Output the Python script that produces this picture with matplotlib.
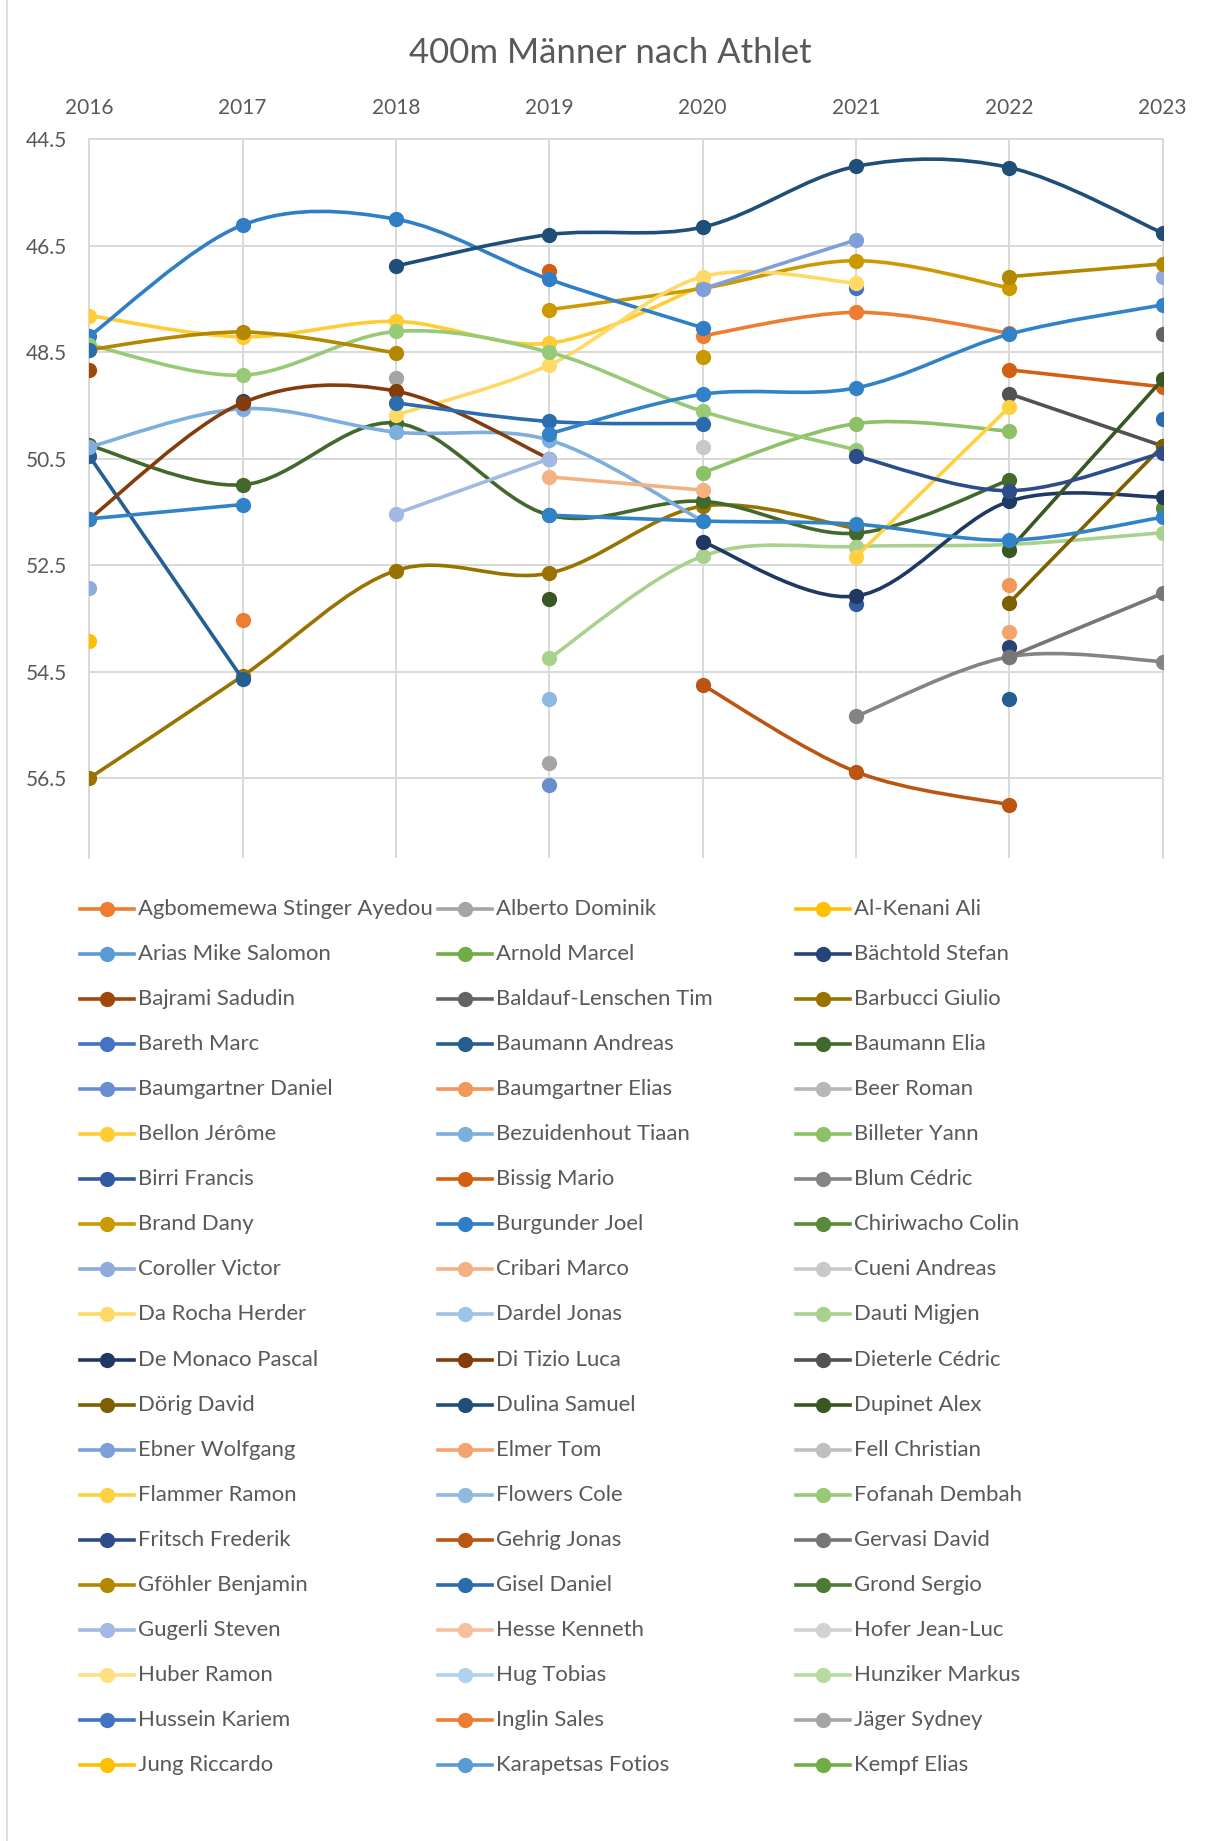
import matplotlib

matplotlib.use("Agg")
import matplotlib.pyplot as plt
import numpy as np
from matplotlib.lines import Line2D
from matplotlib.patches import PathPatch
from matplotlib.path import Path

plt.rcParams["font.family"] = ["Lato", "DejaVu Sans"]

N = None
years = [2016, 2017, 2018, 2019, 2020, 2021, 2022, 2023]
y_ticks = [44.5, 46.5, 48.5, 50.5, 52.5, 54.5, 56.5]

athletes = [
    "Agbomemewa Stinger Ayedou", "Alberto Dominik", "Al-Kenani Ali",
    "Arias Mike Salomon", "Arnold Marcel", "Bächtold Stefan",
    "Bajrami Sadudin", "Baldauf-Lenschen Tim", "Barbucci Giulio",
    "Bareth Marc", "Baumann Andreas", "Baumann Elia",
    "Baumgartner Daniel", "Baumgartner Elias", "Beer Roman",
    "Bellon Jérôme", "Bezuidenhout Tiaan", "Billeter Yann",
    "Birri Francis", "Bissig Mario", "Blum Cédric",
    "Brand Dany", "Burgunder Joel", "Chiriwacho Colin",
    "Coroller Victor", "Cribari Marco", "Cueni Andreas",
    "Da Rocha Herder", "Dardel Jonas", "Dauti Migjen",
    "De Monaco Pascal", "Di Tizio Luca", "Dieterle Cédric",
    "Dörig David", "Dulina Samuel", "Dupinet Alex",
    "Ebner Wolfgang", "Elmer Tom", "Fell Christian",
    "Flammer Ramon", "Flowers Cole", "Fofanah Dembah",
    "Fritsch Frederik", "Gehrig Jonas", "Gervasi David",
    "Gföhler Benjamin", "Gisel Daniel", "Grond Sergio",
    "Gugerli Steven", "Hesse Kenneth", "Hofer Jean-Luc",
    "Huber Ramon", "Hug Tobias", "Hunziker Markus",
    "Hussein Kariem", "Inglin Sales", "Jäger Sydney",
    "Jung Riccardo", "Karapetsas Fotios", "Kempf Elias",
]

colors = [
    "#ED7D31", "#A5A5A5", "#FFC000", "#5B9BD5", "#70AD47", "#264478",
    "#9E480E", "#636363", "#997300", "#4472C4", "#255E91", "#43682B",
    "#698ED0", "#F1975A", "#B7B7B7", "#FFCD33", "#7CAFDD", "#8CC168",
    "#335AA1", "#D26012", "#848484", "#CC9A00", "#2F7EC6", "#5A8A39",
    "#8FAADC", "#F4B183", "#C9C9C9", "#FFD966", "#9DC3E6", "#A9D18E",
    "#1F3864", "#843C0C", "#525252", "#7F6000", "#1F4E79", "#385723",
    "#7F9FD8", "#F4A46E", "#BFBFBF", "#FFD03F", "#8DB9E3", "#97C977",
    "#2C4D8A", "#BB5512", "#767676", "#B38800", "#2A6CAE", "#4E7B33",
    "#A2B9E3", "#F6C09E", "#D2D2D2", "#FFDF80", "#B1D1EE", "#B7DA9F",
    "#4472C4", "#ED7D31", "#A5A5A5", "#FFC000", "#5B9BD5", "#70AD47",
]

# best times per year (seconds), None = no result
results = {
    "Agbomemewa Stinger Ayedou": [N, N, N, N, 48.19, 47.75, 48.14, N],
    "Alberto Dominik": [N, N, 48.99, N, N, N, N, N],
    "Al-Kenani Ali": [53.92, N, N, N, N, N, N, N],
    "Bächtold Stefan": [N, 49.42, N, N, N, N, 54.03, N],
    "Bajrami Sadudin": [48.83, N, N, N, N, N, N, N],
    "Baldauf-Lenschen Tim": [N, N, N, N, N, N, N, 48.15],
    "Barbucci Giulio": [56.5, 54.58, 52.6, 52.65, 51.39, 51.81, N, N],
    "Bareth Marc": [N, N, N, N, N, 47.29, N, N],
    "Baumann Andreas": [50.45, 54.64, N, N, N, N, 55.01, N],
    "Baumann Elia": [50.25, 50.99, 49.83, 51.56, 51.3, 51.9, 50.9, N],
    "Baumgartner Daniel": [N, N, N, 56.62, N, N, N, N],
    "Baumgartner Elias": [N, N, N, N, N, N, 52.87, N],
    "Bellon Jérôme": [47.81, 48.21, 47.92, 48.33, 47.25, N, N, N],
    "Bezuidenhout Tiaan": [50.28, 49.56, 50.0, 50.15, 51.67, N, N, N],
    "Billeter Yann": [N, N, N, N, 50.76, 49.84, 49.98, N],
    "Birri Francis": [N, N, N, N, N, 53.23, N, N],
    "Bissig Mario": [N, N, N, 46.98, N, N, 48.83, 49.15],
    "Blum Cédric": [N, N, N, N, N, 55.34, 54.22, 54.31],
    "Brand Dany": [N, N, N, 47.7, 47.3, 46.78, 47.29, N],
    "Burgunder Joel": [48.2, 46.11, 46.0, 47.13, 48.04, N, N, N],
    "Chiriwacho Colin": [N, N, N, N, N, N, N, 51.43],
    "Coroller Victor": [52.92, N, N, N, N, N, N, 47.08],
    "Cribari Marco": [N, N, N, 50.84, 51.09, N, N, N],
    "Cueni Andreas": [N, N, N, N, 50.28, N, N, N],
    "Da Rocha Herder": [N, N, 49.68, 48.74, 47.08, 47.2, N, N],
    "Dauti Migjen": [N, N, N, 54.25, 52.33, 52.15, 52.11, 51.89],
    "De Monaco Pascal": [N, N, N, N, 52.06, 53.08, 51.3, 51.22],
    "Di Tizio Luca": [51.63, 49.45, 49.23, 50.5, N, N, N, N],
    "Dieterle Cédric": [N, N, N, N, N, N, 49.28, 50.26],
    "Dörig David": [N, N, N, N, N, N, 53.21, 50.26],
    "Dulina Samuel": [N, N, 46.88, 46.29, 46.15, 45.01, 45.03, 46.26],
    "Dupinet Alex": [N, N, N, 53.14, N, N, 52.21, 49.01],
    "Ebner Wolfgang": [N, N, N, N, 47.31, 46.39, N, N],
    "Elmer Tom": [N, N, N, N, N, N, 53.75, N],
    "Flammer Ramon": [N, N, N, N, N, 52.34, 49.53, N],
    "Flowers Cole": [N, N, N, 55.01, N, N, N, N],
    "Fofanah Dembah": [48.36, 48.93, 48.11, 48.5, 49.61, 50.33, N, N],
    "Fritsch Frederik": [N, N, N, N, N, 50.45, 51.1, 50.39],
    "Gehrig Jonas": [N, N, N, N, 54.75, 56.38, 57.0, N],
    "Gervasi David": [N, N, N, N, N, N, 54.22, 53.03],
    "Gföhler Benjamin": [48.45, 48.12, 48.51, N, N, N, 47.08, 46.84],
    "Gisel Daniel": [48.45, N, 49.45, 49.8, 49.84, N, N, 49.75],
    "Gugerli Steven": [N, N, 51.53, 50.5, N, N, N, N],
    "Inglin Sales": [N, 53.53, N, N, N, N, N, N],
    "Jäger Sydney": [N, N, N, 56.22, N, N, N, N],
}

# further athletes in the chart that the legend no longer shows
extra_colors = ["#3282C8", "#3282C8", "#3282C8", "#C99A00"]
extra_results = [
    [51.63, 51.36, N, N, N, N, N, N],
    [N, N, N, 50.03, 49.29, 49.17, 48.16, 47.61],
    [N, N, N, 51.56, 51.67, 51.73, 52.03, 51.6],
    [N, N, N, N, 48.59, N, N, N],
]

TEXT = "#595959"
GRID = "#D9D9D9"
W, H = 1213, 1841
LW, MS = 2.6, 11


def smooth_path(xs: list, ys: list) -> Path:
    """Excel-like smoothed line: cubic Bezier through all points."""
    pts = np.column_stack([xs, ys]).astype(float)
    n = len(pts)
    verts = [pts[0]]
    codes = [Path.MOVETO]
    for i in range(n - 1):
        p0 = pts[max(i - 1, 0)]
        p1 = pts[i]
        p2 = pts[i + 1]
        p3 = pts[min(i + 2, n - 1)]
        verts += [p1 + (p2 - p0) / 6, p2 - (p3 - p1) / 6, p2]
        codes += [Path.CURVE4] * 3
    return Path(verts, codes)


def plot_series(ax, values: list, color: str, z: float) -> None:
    """Draw one athlete: smoothed line through consecutive years, markers on all."""
    run = []
    for yr, v in list(zip(years, values)) + [(None, None)]:
        if v is not None:
            run.append((yr, v))
            continue
        if len(run) > 1:
            xs, ys = zip(*run)
            ax.add_patch(PathPatch(smooth_path(xs, ys), fill=False, edgecolor=color,
                                   lw=LW, capstyle="round", joinstyle="round", zorder=z))
        run = []
    xs = [yr for yr, v in zip(years, values) if v is not None]
    ys = [v for v in values if v is not None]
    ax.plot(xs, ys, "o", color=color, ms=MS, mew=0, zorder=z + 0.5)


fig = plt.figure(figsize=(W / 100, H / 100), dpi=100)
ax = fig.add_axes([89.3 / W, 1 - 858 / H, (1162.6 - 89.3) / W, (858 - 139.3) / H])

z = 3
for name, col in zip(athletes, colors):
    if name in results:
        plot_series(ax, results[name], col, z)
    z += 1
for col, vals in zip(extra_colors, extra_results):
    plot_series(ax, vals, col, z)
    z += 1

ax.set_xlim(2016, 2023)
ax.set_ylim(58, 44.5)
ax.set_xticks(years)
ax.set_yticks(y_ticks)
ax.set_yticklabels([f"{v:.1f}" for v in y_ticks])
ax.xaxis.tick_top()
ax.tick_params(axis="x", length=0, pad=15, labelsize=15, labelcolor=TEXT)
ax.tick_params(axis="y", length=0, pad=16, labelsize=15, labelcolor=TEXT)
ax.grid(True, color=GRID, lw=1.4, zorder=0)
ax.set_axisbelow(True)
for side in ["left", "right", "top"]:
    ax.spines[side].set_color(GRID)
    ax.spines[side].set_linewidth(1.4)
ax.spines["bottom"].set_visible(False)

fig.text(610.6 / W, 1 - 52.8 / H, "400m Männer nach Athlet", ha="center",
         va="center", fontsize=25, color=TEXT)

# legend, 3 columns
for i, (name, col) in enumerate(zip(athletes, colors)):
    row, c = divmod(i, 3)
    y = 1 - (909 + row * 45.05) / H
    x0 = 80 + c * 358
    fig.add_artist(Line2D([x0 / W, (x0 + 54) / W], [y, y], color=col, lw=LW,
                          transform=fig.transFigure))
    fig.add_artist(Line2D([(x0 + 27) / W], [y], marker="o", ms=MS, mew=0,
                          color=col, transform=fig.transFigure))
    fig.text((x0 + 58) / W, y, name, ha="left", va="center", fontsize=15.9, color=TEXT)

fig.add_artist(Line2D([7 / W, 7 / W], [0, 1], color=GRID, lw=1.2,
                      transform=fig.transFigure))

fig.savefig("out.png", dpi=100, facecolor="white")
